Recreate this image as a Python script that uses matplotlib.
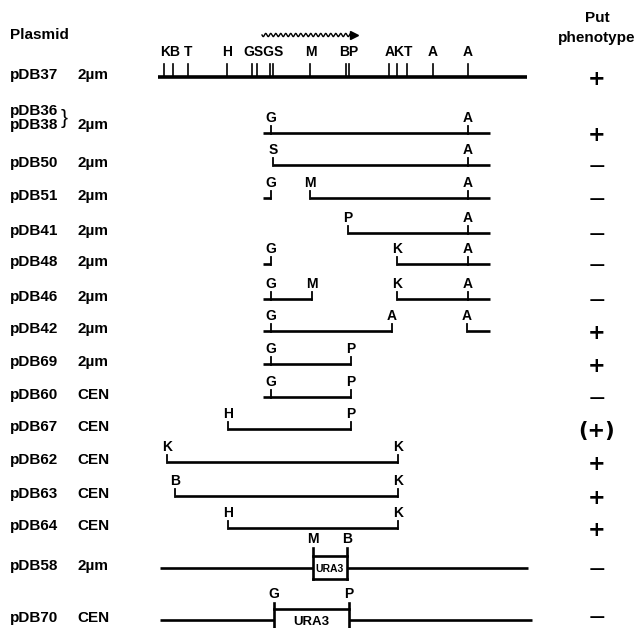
import numpy as np
import matplotlib.pyplot as plt

# plasmid names, vector type and Put phenotype per row
names = ["pDB37", "pDB36", "pDB50", "pDB51", "pDB41", "pDB48", "pDB46", "pDB42",
         "pDB69", "pDB60", "pDB67", "pDB62", "pDB63", "pDB64", "pDB58", "pDB70"]
vectors = ["2µm", "2µm", "2µm", "2µm", "2µm", "2µm", "2µm", "2µm",
           "2µm", "CEN", "CEN", "CEN", "CEN", "CEN", "2µm", "CEN"]
phenotypes = ["+", "+", "−", "−", "−", "−", "−", "+",
              "+", "−", "(+)", "+", "+", "+", "−", "−"]
row_y = [77, 133, 165, 198, 233, 264, 299, 331, 364, 397, 429, 462, 496, 528, 568, 620]

# top restriction map of pDB37
map_ends = [158, 527]
map_sites = [164, 173, 188, 227, 252, 257, 270, 273, 310, 346, 349, 389, 397, 407, 433, 468]
map_labels = ["KB", "T", "H", "GSGS", "M", "BP", "AKT", "A", "A"]
map_label_x = [170, 188, 227, 263, 311, 349, 399, 433, 468]
transcript = [262, 352]

# subclone fragments: line pieces and labelled sites, rows 1..13
frag_segments = [
    [(263, 490)],
    [(273, 490)],
    [(263, 271), (310, 490)],
    [(348, 490)],
    [(263, 271), (397, 490)],
    [(263, 312), (397, 490)],
    [(263, 392), (467, 490)],
    [(263, 351)],
    [(263, 351)],
    [(228, 351)],
    [(167, 398)],
    [(175, 398)],
    [(228, 398)],
]
frag_sites = [
    [("G", 271), ("A", 468)],
    [("S", 273), ("A", 468)],
    [("G", 271), ("M", 310), ("A", 468)],
    [("P", 348), ("A", 468)],
    [("G", 271), ("K", 397), ("A", 468)],
    [("G", 271), ("M", 312), ("K", 397), ("A", 468)],
    [("G", 271), ("A", 392), ("A", 467)],
    [("G", 271), ("P", 351)],
    [("G", 271), ("P", 351)],
    [("H", 228), ("P", 351)],
    [("K", 167), ("K", 398)],
    [("B", 175), ("K", 398)],
    [("H", 228), ("K", 398)],
]

# URA3 insertions (pDB58, pDB70)
ura_line = [(160, 528), (160, 532)]
ura_box = [("M", 313, "B", 347), ("G", 274, "P", 349)]

plt.rcParams['font.family'] = ['Liberation Sans', 'DejaVu Sans']

fig = plt.figure(figsize=(6.41, 6.28), dpi=100)
ax = fig.add_axes([0, 0, 1, 1])
ax.set_xlim(0, 641)
ax.set_ylim(628, 0)
ax.axis('off')

k = 'black'
fs_name = 11
fs_site = 10

# headers
ax.text(10, 35, "Plasmid", fontsize=fs_name, fontweight='bold', va='center', ha='left')
ax.text(597, 18, "Put", fontsize=fs_name, fontweight='bold', va='center', ha='center')
ax.text(597, 38, "phenotype", fontsize=fs_name, fontweight='bold', va='center', ha='center')

# top map
y0 = row_y[0]
ax.plot(map_ends, [y0, y0], color=k, lw=2.6, solid_capstyle='butt')
for sx in map_sites:
    ax.plot([sx, sx], [y0 - 13, y0], color=k, lw=1.2)
for lab, lx in zip(map_labels, map_label_x):
    ax.text(lx, 52, lab, fontsize=fs_site, fontweight='bold', ha='center', va='center')
wx = np.linspace(transcript[0], transcript[1], 400)
ax.plot(wx, 35 + 1.6 * np.sin((wx - wx[0]) * 2 * np.pi / 5.0), color=k, lw=1.0)
ax.plot([transcript[1] + 2], [35], marker='>', color=k, markersize=6)

# fragments
for i, (segs, sites) in enumerate(zip(frag_segments, frag_sites)):
    y = row_y[i + 1]
    for a, b in segs:
        ax.plot([a, b], [y, y], color=k, lw=1.9, solid_capstyle='butt')
    for lab, sx in sites:
        ax.plot([sx, sx], [y - 7, y + 0.8], color=k, lw=1.3)
        ax.text(sx, y - 15, lab, fontsize=fs_site, fontweight='bold', ha='center', va='center')

# URA3 constructs
box_geom = [(556, 579, 548, 7.5, 572), (609, 640, 603, 9.5, 625)]
for j, ((l0, l1), (la, xa, lb, xb)) in enumerate(zip(ura_line, ura_box)):
    y = row_y[14 + j]
    top, bot, tick, fsz, ty = box_geom[j]
    ax.plot([l0, xa], [y, y], color=k, lw=1.9, solid_capstyle='butt')
    ax.plot([xb, l1], [y, y], color=k, lw=1.9, solid_capstyle='butt')
    ax.plot([xa, xa], [tick, bot], color=k, lw=1.9)
    ax.plot([xb, xb], [tick, bot], color=k, lw=1.9)
    ax.plot([xa, xb], [top, top], color=k, lw=1.9)
    ax.plot([xa, xb], [bot, bot], color=k, lw=1.9)
    ax.text((xa + xb) / 2, ty, "URA3", fontsize=fsz, fontweight='bold', ha='center', va='baseline')
    ax.text(xa, tick - 9, la, fontsize=fs_site, fontweight='bold', ha='center', va='center')
    ax.text(xb, tick - 9, lb, fontsize=fs_site, fontweight='bold', ha='center', va='center')

# left labels and phenotypes
for i, (nm, vec, ph) in enumerate(zip(names, vectors, phenotypes)):
    y = row_y[i] + 2
    if nm == "pDB36":
        ax.text(10, 115, "pDB36", fontsize=fs_name, fontweight='bold', va='baseline', ha='left')
        ax.text(10, 129, "pDB38", fontsize=fs_name, fontweight='bold', va='baseline', ha='left')
        ax.text(61, 118, "}", fontsize=15, va='center', ha='left')
        ax.text(77, 129, vec, fontsize=fs_name, fontweight='bold', va='baseline', ha='left')
    else:
        ax.text(10, y, nm, fontsize=fs_name, fontweight='bold', va='baseline', ha='left')
        ax.text(77, y, vec, fontsize=fs_name, fontweight='bold', va='baseline', ha='left')
    py = min(row_y[i] + 2, 618)
    wt = 'normal' if ph == "−" else 'bold'
    ax.text(597, py, ph, fontsize=16 if ph == "−" else 15, fontweight=wt, va='center', ha='center',
            family=['DejaVu Sans'])

fig.savefig('out.png', dpi=100)
